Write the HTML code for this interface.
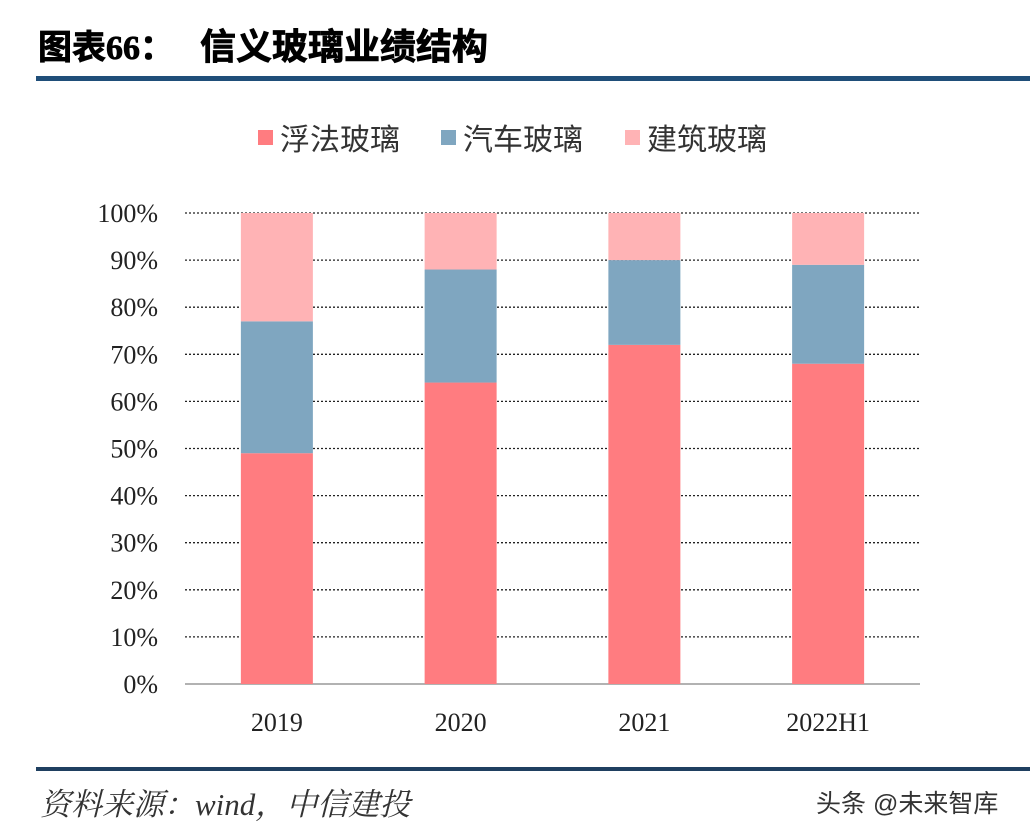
<!DOCTYPE html>
<html><head><meta charset="utf-8">
<style>
body{margin:0;background:#fff;width:1030px;height:834px;overflow:hidden;font-family:"Liberation Serif","Noto Serif CJK SC",serif;}
svg{display:block}
</style></head>
<body>
<svg id="chart" width="1030" height="834">
<g font-weight="bold" fill="#000" font-family="Liberation Serif, Noto Sans CJK SC, sans-serif" stroke="#000" stroke-width="0.8">
<text x="38" y="59" font-size="34">图表66：</text>
<text x="200" y="59" font-size="36">信义玻璃业绩结构</text>
</g>
<rect x="36" y="76" width="994" height="5" fill="#1f4e79"/>
<g font-size="30" font-family="Liberation Sans, Noto Sans CJK SC, sans-serif" fill="#333">
<g><rect x="258" y="130" width="15" height="15" fill="#ff7c80"/><text x="280" y="150">浮法玻璃</text></g>
<g><rect x="441" y="130" width="15" height="15" fill="#7fa6c0"/><text x="463" y="150">汽车玻璃</text></g>
<g><rect x="625" y="130" width="15" height="15" fill="#ffb3b5"/><text x="647" y="150">建筑玻璃</text></g>
</g>
<g id="grid"></g><g id="bars"></g><g id="labels"></g>
<rect x="36" y="767" width="994" height="4" fill="#1f3f60"/>
<text x="40" y="815" font-size="31" font-style="italic" font-family="Liberation Serif, Noto Serif CJK SC, serif" fill="#333">资料来源：wind，中信建投</text>
<text x="816" y="812" font-size="25" font-family="Liberation Sans, Noto Sans CJK SC, sans-serif" fill="#333">头条 @未来智库</text>
</svg>
<script>
const categories=["2019","2020","2021","2022H1"];
const floatGlass=[49,64,72,68];
const autoGlass=[28,24,18,21];
const buildingGlass=[23,12,10,11];
const yTicks=[0,10,20,30,40,50,60,70,80,90,100];
const NS="http://www.w3.org/2000/svg";
const x0=185,x1=920,yTop=213,yBot=684;
const y=v=>yBot-(yBot-yTop)*v/100;
const band=(x1-x0)/categories.length;
const bw=72;
const cx=i=>x0+band*(i+0.5);
function mk(t,a,p){const e=document.createElementNS(NS,t);for(const k in a)e.setAttribute(k,a[k]);p.appendChild(e);return e;}
const grid=document.getElementById('grid'),bars=document.getElementById('bars'),labels=document.getElementById('labels');
yTicks.forEach(v=>{
 const l=mk('line',{x1:x0,x2:x1,y1:y(v),y2:y(v),stroke:v===0?'#999':'#222','stroke-width':v===0?1.5:1.3,'stroke-dasharray':v===0?'':'2,2'},grid);
 
 
 const t=mk('text',{x:158,y:y(v)+9,'text-anchor':'end','font-size':26,fill:'#222'},labels);
 t.textContent=v+'%';
 
 
});
const series=[[floatGlass,'#ff7c80','float'],[autoGlass,'#7fa6c0','auto'],[buildingGlass,'#ffb3b5','building']];
categories.forEach((c,i)=>{
 let acc=0;
 series.forEach(([arr,col,nm])=>{
  const r=mk('rect',{x:cx(i)-bw/2,y:y(acc+arr[i]),width:bw,height:y(acc)-y(acc+arr[i]),fill:col},bars);
  
  
  acc+=arr[i];
 });
 const t=mk('text',{x:cx(i),y:731,'text-anchor':'middle','font-size':26,fill:'#222'},labels);
 t.textContent=c;
 
 
});
</script>
</body></html>
